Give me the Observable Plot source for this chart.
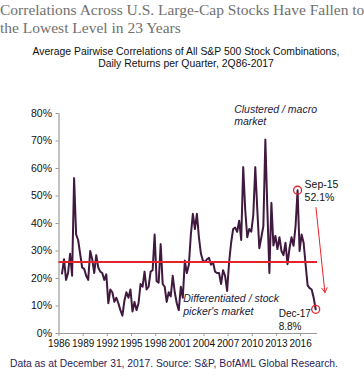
<!DOCTYPE html>
<html>
<head>
<meta charset="utf-8">
<script src="https://cdn.jsdelivr.net/npm/d3@7"></script>
<script src="https://cdn.jsdelivr.net/npm/@observablehq/plot@0.6"></script>
<style>
  html, body { margin: 0; padding: 0; background: #fff; }
  #wrap { position: relative; width: 364px; height: 383px; overflow: hidden; }
  #title { position: absolute; left: 0; top: 1px; font-family: "Liberation Serif", serif; font-size: 15.5px; line-height: 17.7px; color: #707070; white-space: nowrap; }
  #subtitle { position: absolute; left: 0; top: 46px; width: 372px; text-align: center; font-family: "Liberation Sans", sans-serif; font-size: 10.4px; line-height: 11.5px; color: #111; }
  #chart { position: absolute; left: 0; top: 70px; }
  #caption { position: absolute; left: 10px; top: 358px; font-family: "Liberation Sans", sans-serif; font-size: 10.3px; color: #2b1e5a; white-space: nowrap; }
</style>
</head>
<body>
<div id="wrap">
  <div id="title">Correlations Across U.S. Large-Cap Stocks Have Fallen to<br>the Lowest Level in 23 Years</div>
  <div id="subtitle">Average Pairwise Correlations of All S&amp;P 500 Stock Combinations,<br>Daily Returns per Quarter, 2Q86-2017</div>
  <div id="chart"></div>
  <div id="caption">Data as at December 31, 2017. Source: S&amp;P, BofAML Global Research.</div>
</div>
<script>
// Quarterly series, starting 2Q 1986, ending 4Q 2017 (percent)
const startYear = 1986;
const startQuarter = 2;
const correlations = [
  21.8, 27, 19.5, 22, 29, 21, 56.5, 36, 34, 29,
  24, 23.5, 21, 19.5, 30, 27, 22, 28.5, 24, 22.5,
  22, 19.5, 21.5, 11, 16, 15, 11.5, 13, 11, 8.5,
  6.5, 12, 15, 13, 16, 8, 11.5, 8.5, 11, 18,
  17, 22.5, 16, 17, 22.5, 23, 36, 19, 18.5, 32.5,
  18, 17, 11.5, 15, 13.5, 21, 15, 11, 8.5, 17,
  13, 26.5, 22, 25, 36, 43.5, 38, 43.5, 35, 29,
  26.5, 26, 27, 27.5, 25, 26, 22.5, 22, 22, 18,
  23, 21, 15.5, 26, 33, 38, 38.5, 37, 41, 34,
  60.5, 45, 35, 38, 37, 43, 60.5, 45, 31, 35,
  39, 70.5, 45, 22, 47.5, 32, 35.5, 30.7, 35, 30,
  28.5, 33, 25.2, 31, 35, 31.9, 39, 52.1, 30, 36,
  33, 25, 17.5, 16.5, 16, 13, 8.8
];
const averageLevel = 26;
const yTicks = [0, 10, 20, 30, 40, 50, 60, 70, 80];
const xTicks = [1986, 1989, 1992, 1995, 1998, 2001, 2004, 2007, 2010, 2013, 2016];
const highlights = [
  { label: "Sep-15\n52.1%", year: 2015, quarter: 3, value: 52.1 },
  { label: "Dec-17\n8.8%", year: 2017, quarter: 4, value: 8.8 }
];
const notes = [
  { text: "Clustered / macro\nmarket", year: 2007.75, value: 79.5 },
  { text: "Differentiated / stock\npicker's market", year: 2001.43, value: 10.5 }
];
const trendArrow = [{ year1: 2017.91, value1: 45.8, year2: 2019.02, value2: 14.9 }];

const toYear = (y, q) => y + (q - 1) / 4 + 0.125;
const data = correlations.map((v, i) => {
  const q = startQuarter - 1 + i;
  return { t: startYear + q / 4 + 0.125, v };
});
const hl = highlights.map(d => ({ ...d, t: toYear(d.year, d.quarter) }));

const font = "Liberation Sans, Arial, sans-serif";
const lineColor = "#40193f";
const red = "#e5232a";

const chart = Plot.plot({
  width: 364,
  height: 290,
  marginTop: 43,
  marginBottom: 27,
  marginLeft: 58.5,
  marginRight: 47,
  style: { fontFamily: font, fontSize: "10px", color: "#111", background: "transparent" },
  x: { domain: [1986, 2018.1], label: null },
  y: { domain: [0, 80], label: null },
  marks: [
    Plot.ruleX([1986], { stroke: "#9a9a9a", strokeWidth: 1.2 }),
    Plot.ruleY([0], { stroke: "#9a9a9a", strokeWidth: 1.2 }),
    Plot.axisY({ ticks: yTicks, tickFormat: d => d + "%", tickSize: 3, tickPadding: 4, stroke: "#9a9a9a", fontSize: 10.5, label: null }),
    Plot.axisX({ ticks: xTicks, tickFormat: d => String(d), tickSize: 3, tickPadding: 3, stroke: "#9a9a9a", fontSize: 10, label: null }),
    Plot.line(data, { x: "t", y: "v", stroke: lineColor, strokeWidth: 2, strokeLinejoin: "round" }),
    Plot.ruleY([averageLevel], { stroke: red, strokeWidth: 2 }),
    Plot.dot(hl, { x: "t", y: "value", r: 4, stroke: red, strokeWidth: 1.3, fill: "none" }),
    Plot.text(hl.slice(0, 1), { x: "t", y: "value", text: "label", textAnchor: "start", lineAnchor: "middle", dx: 7, dy: 0, fontSize: 10.5, fill: "#111", lineHeight: 1.2 }),
    Plot.text(hl.slice(1), { x: "t", y: "value", text: "label", textAnchor: "start", lineAnchor: "middle", dx: -37, dy: 10, fontSize: 10, fill: "#111", lineHeight: 1.25 }),
    Plot.text(notes, { x: "year", y: "value", text: "text", textAnchor: "start", lineAnchor: "middle", fontSize: 10.5, fontStyle: "italic", fill: "#1b1a3c", lineHeight: 1.2 }),
    Plot.arrow(trendArrow, { x1: "year1", y1: "value1", x2: "year2", y2: "value2", stroke: red, strokeWidth: 1, headLength: 8 })
  ]
});
document.getElementById("chart").appendChild(chart);
</script>
</body>
</html>
